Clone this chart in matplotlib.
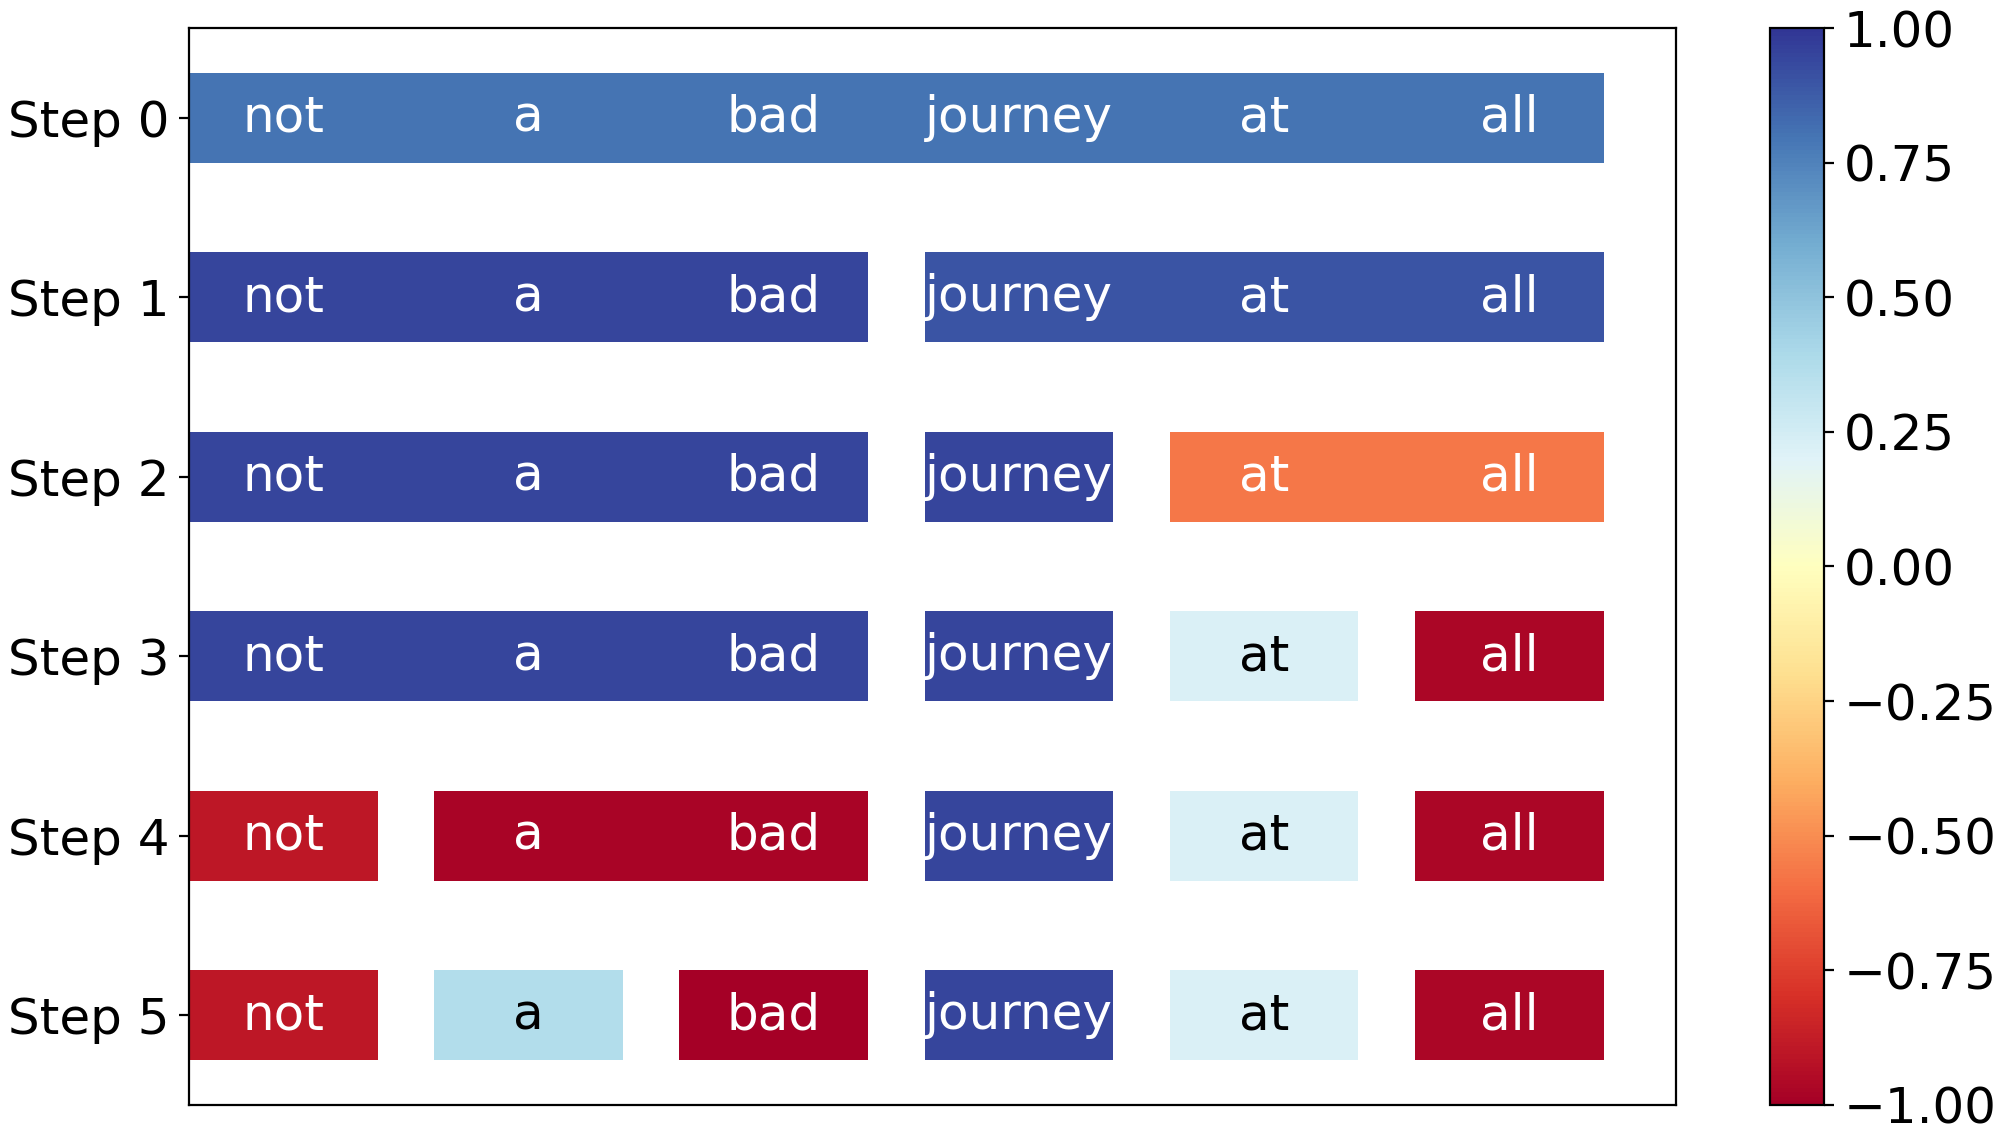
import matplotlib
matplotlib.use("Agg")
import matplotlib.pyplot as plt
from matplotlib.patches import Rectangle
from matplotlib.colors import Normalize
from matplotlib.cm import ScalarMappable

words = ["not", "a", "bad", "journey", "at", "all"]
steps = ["Step 0", "Step 1", "Step 2", "Step 3", "Step 4", "Step 5"]

# spans per step: (first word, last word, score)
step0 = [(0, 5, 0.80)]
step1 = [(0, 2, 0.95), (3, 5, 0.90)]
step2 = [(0, 2, 0.95), (3, 3, 0.95), (4, 5, -0.57)]
step3 = [(0, 2, 0.95), (3, 3, 0.95), (4, 4, 0.22), (5, 5, -0.97)]
step4 = [(0, 0, -0.90), (1, 2, -0.98), (3, 3, 0.95), (4, 4, 0.22), (5, 5, -0.97)]
step5 = [(0, 0, -0.90), (1, 1, 0.37), (2, 2, -1.0), (3, 3, 0.95), (4, 4, 0.22), (5, 5, -0.97)]
spans = [step0, step1, step2, step3, step4, step5]

plt.rcParams['font.size'] = 18
cmap = plt.get_cmap('RdYlBu')
norm = Normalize(vmin=-1, vmax=1)

fig = plt.figure(figsize=(10, 5.695), dpi=200)
ax = fig.add_axes([0.0945, 0.0299, 0.7435, 0.9455])
cax = fig.add_axes([0.885, 0.0299, 0.027, 0.9455])

half = 0.385
for row, step in enumerate(spans):
    for a, b, score in step:
        ax.add_patch(Rectangle((a - half, row - 0.25), b - a + 2 * half, 0.5,
                               facecolor=cmap(norm(score)), edgecolor='none'))
        txt_color = 'black' if abs(score) < 0.5 else 'white'
        for i in range(a, b + 1):
            ax.text(i, row, words[i], ha='center', va='center', color=txt_color, fontsize=18)

ax.set_xlim(-half, 5.68)
ax.set_ylim(5.5, -0.5)
ax.set_yticks(range(len(steps)))
ax.set_yticklabels(steps)
ax.set_xticks([])

cb = fig.colorbar(ScalarMappable(norm=norm, cmap=cmap), cax=cax)
cb.set_ticks([-1, -0.75, -0.5, -0.25, 0, 0.25, 0.5, 0.75, 1])
cb.ax.set_yticklabels([('%.2f' % t).replace('-', '\u2212') for t in cb.get_ticks()])

fig.savefig("out.png")
